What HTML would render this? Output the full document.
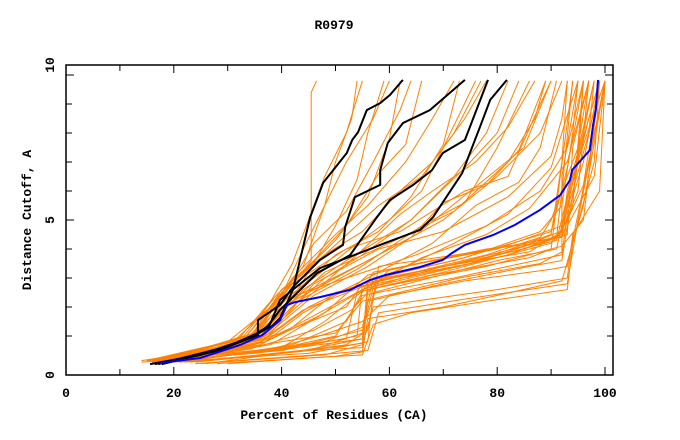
<!DOCTYPE html>
<html><head><meta charset="utf-8"><style>
body{margin:0;background:#fff}
svg{display:block}
text{font-family:"Liberation Mono",monospace;font-weight:bold;font-size:13px;fill:#000}
</style></head><body>
<svg id="chart" width="680" height="440" viewBox="0 0 680 440">
<text x="334" y="29" text-anchor="middle">R0979</text>
<g id="ticks"></g>
<g id="series"></g>
<rect x="66" y="65" width="547" height="310" fill="none" stroke="#000" stroke-width="1.5"/>
<text x="334" y="419" text-anchor="middle">Percent of Residues (CA)</text>
<text transform="translate(31,220) rotate(-90)" text-anchor="middle">Distance Cutoff, A</text>
</svg>
<script>
const xTicks=[0,20,40,60,80,100];
const yTicks=[0,5,10];
const orangeLines=[
[[14,0.1],[35,0.4],[55,0.9],[56,2.6],[70,3.2],[90,4.2],[92,4.6],[93,6],[96,8],[98,9.8]],
[[16,0.1],[40,0.5],[54,1.0],[55,2.8],[75,3.5],[92,4.5],[93,5.5],[97,8.5],[99,9.8]],
[[18,0.1],[45,0.4],[56,0.8],[57,2.5],[80,3.6],[91,4.0],[94,6.5],[100,9.8]],
[[20,0.1],[42,0.6],[55,1.2],[58,2.9],[78,3.8],[88,4.4],[90,5.0],[95,7.5],[97,9.8]],
[[15,0.15],[38,0.5],[50,1.0],[55,2.4],[72,3.0],[92,3.8],[93,5.2],[96,7],[99,9.8]],
[[22,0.1],[45,0.5],[55,0.6],[56,2.2],[70,2.8],[86,3.4],[92,3.6],[93,4.8],[98,6.5],[100,9.8]],
[[25,0.05],[48,0.35],[55,0.7],[57,2.0],[80,2.6],[93,3.0],[94,4.5],[99,6],[100,9.8]],
[[18,0.15],[37,0.8],[45,1.6],[55,2.6],[68,3.3],[85,4.1],[93,4.7],[95,7],[96,9.8]],
[[16,0.15],[35,0.7],[42,1.3],[50,2.5],[65,3.2],[85,4.0],[91,4.4],[92,6],[94,9.8]],
[[20,0.1],[40,0.6],[48,1.5],[58,3.0],[74,3.7],[88,4.6],[92,5.5],[94,8],[95,9.8]],
[[14,0.15],[30,0.6],[40,1.1],[52,2.0],[55,2.8],[70,3.4],[86,3.9],[92,4.6],[95,6],[97,9.8]],
[[24,0.05],[50,0.4],[56,0.5],[58,1.8],[75,2.3],[93,2.8],[95,5],[100,9.8]],
[[20,0.15],[38,0.7],[48,1.8],[56,3.1],[68,3.6],[88,4.3],[92,4.4],[94,5.5],[96,9.8]],
[[17,0.15],[36,0.8],[44,1.9],[55,2.7],[75,3.5],[90,4.5],[92,7],[93,9.8]],
[[22,0.1],[42,0.7],[52,1.5],[57,3.2],[80,4.0],[92,4.8],[94,6],[97,8],[98,9.8]],
[[19,0.15],[40,0.8],[50,1.1],[55,2.2],[73,3.0],[88,3.5],[92,3.9],[92,6.5],[95,9.8]],
[[15,0.15],[35,0.5],[52,0.9],[54,2.5],[68,3.1],[86,3.7],[90,4.0],[91,5.5],[94,9.8]],
[[26,0.05],[44,0.5],[55,0.9],[56,2.6],[78,3.4],[92,4.1],[96,5],[99,9.8]],
[[21,0.1],[43,0.45],[55,0.75],[56,2.9],[76,3.6],[91,4.3],[93,5.8],[98,9.8]],
[[23,0.1],[46,0.55],[55,1.1],[57,2.7],[82,3.8],[92,4.5],[95,7.2],[99,9.8]],
[[28,0.05],[50,0.3],[55,0.45],[56,1.6],[70,2.0],[80,2.4],[92,2.9],[96,5.5],[100,9.8]],
[[30,0.05],[46,0.25],[55,0.35],[57,1.4],[64,1.8],[78,2.2],[93,2.6],[94,4.2],[98,7],[99,9.8]],
[[19,0.1],[36,0.45],[48,0.8],[55,1.3],[57,3.0],[72,3.6],[90,4.6],[93,6.8],[96,9.8]],
[[17,0.1],[34,0.55],[46,1.2],[53,1.9],[60,3.3],[78,4.0],[88,4.2],[93,4.5],[94,7.5],[97,9.8]],
[[24,0.1],[40,0.4],[52,0.7],[56,1.2],[58,3.4],[76,3.9],[91,4.4],[93,5.0],[96,6.2],[99,9.8]],
[[21,0.1],[38,0.55],[47,1.0],[55,1.5],[60,2.4],[74,2.9],[90,3.3],[93,3.4],[95,5.2],[100,9.8]],
[[16,0.1],[33,0.8],[40,2.0],[50,3.0],[60,4.0],[70,5.0],[80,6.5],[88,8.0],[92,9.8]],
[[18,0.15],[35,0.9],[42,2.3],[55,3.5],[65,4.5],[75,6.0],[85,7.5],[90,9.8]],
[[15,0.15],[32,0.7],[38,1.5],[48,3.2],[60,4.2],[72,5.3],[82,7.0],[87,8.5],[89,9.8]],
[[20,0.15],[36,1.0],[44,2.6],[52,3.6],[64,5.0],[74,6.8],[80,8.0],[84,9.8]],
[[17,0.15],[34,0.8],[41,2.3],[52,3.0],[65,3.8],[78,4.8],[88,6.0],[93,7.5],[96,9.8]],
[[22,0.1],[38,1.1],[46,2.8],[58,4.0],[70,4.6],[82,5.8],[90,7.2],[92,8.5],[93,9.8]],
[[19,0.15],[37,0.9],[45,2.0],[56,3.0],[68,4.2],[76,5.5],[84,6.3],[88,7.5],[91,9.8]],
[[16,0.15],[33,0.9],[40,2.5],[48,3.8],[58,5.5],[66,6.5],[72,8.0],[77,9.8]],
[[21,0.1],[36,0.9],[43,2.2],[54,3.3],[66,4.8],[74,5.6],[80,7.5],[86,9.8]],
[[18,0.15],[35,1.1],[42,2.8],[52,4.0],[62,4.6],[74,6.0],[82,6.5],[88,9.0],[90,9.8]],
[[20,0.1],[37,0.8],[44,1.8],[52,2.6],[62,3.3],[72,4.2],[82,5.2],[90,6.8],[95,9.8]],
[[16,0.1],[36,0.7],[47,1.7],[57,2.8],[66,3.7],[78,4.5],[86,5.4],[93,7.0],[97,9.8]],
[[18,0.1],[36,0.9],[44,2.2],[54,3.8],[62,5.2],[68,6.0],[76,7.0],[82,8.2],[87,9.8]],
[[20,0.1],[37,1.0],[46,2.4],[56,3.4],[64,4.4],[70,5.6],[78,6.2],[84,7.4],[89,9.8]],
[[15,0.15],[30,0.8],[38,2.0],[43,3.0],[45.5,3.6],[45.5,9.4],[46.5,9.8]],
[[17,0.15],[32,0.9],[38,2.2],[42,3.5],[45,5.0],[48,6.5],[52,8.0],[55,9.8]],
[[18,0.15],[34,0.9],[40,2.4],[44,4.0],[48,5.5],[52,7.0],[57,8.5],[60,9.8]],
[[20,0.1],[35,1.0],[41,2.6],[46,4.2],[52,5.3],[57,7.0],[62,8.8],[64,9.8]],
[[16,0.15],[33,0.9],[39,2.2],[44,3.2],[50,4.3],[56,5.8],[60,7.8],[62,9.8]],
[[19,0.15],[35,1.1],[42,3.0],[50,4.5],[56,5.5],[63,7.0],[68,8.5],[72,9.8]],
[[18,0.15],[34,0.9],[40,2.6],[48,3.8],[55,4.6],[62,6.0],[68,7.0],[74,8.5],[78,9.8]],
[[21,0.1],[36,0.9],[42,2.0],[48,3.0],[55,3.8],[64,5.0],[72,6.5],[78,8.0],[82,9.8]],
[[15,0.15],[31,0.8],[38,2.0],[44,3.4],[48,5.5],[50,7.0],[53,8.5],[54,9.8]],
[[17,0.15],[34,1.0],[40,2.2],[46,3.0],[54,4.2],[60,5.0],[66,6.0],[70,7.5],[76,9.8]],
[[19,0.1],[35,0.9],[41,2.0],[45,3.2],[50,4.8],[54,6.4],[56,8.0],[59,9.8]],
[[17,0.1],[33,1.0],[39,2.4],[46,3.6],[52,4.8],[58,6.6],[63,7.6],[66,9.8]],
[[22,0.1],[36,1.1],[43,2.6],[50,3.8],[58,4.6],[64,5.8],[70,7.6],[73,9.8]]
];
const blackLines=[
[[15.6,0.03],[24.9,0.34],[31.4,0.76],[35.6,1.1],[38.2,1.34],[39.7,1.62],[42.1,2.59],[45.3,5.1],[45.6,5.24],[47.7,6.28],[52.1,7.31],[53.1,7.76],[54.2,8.03],[55.8,8.79],[58.3,9.03],[60.1,9.31],[62.5,9.83]],
[[16.5,0.03],[26.7,0.45],[32.3,0.79],[35.6,1.03],[35.6,1.55],[39.7,2.07],[42.1,2.69],[47.1,3.62],[51.4,4.14],[51.8,4.76],[53.6,5.79],[58.3,6.21],[58.3,6.72],[59.7,7.66],[62.5,8.34],[67.5,8.79],[74.0,9.83]],
[[17.1,0.03],[27.6,0.52],[33.2,0.86],[36.9,1.21],[39.7,1.9],[46.6,3.17],[52.7,3.79],[57.7,5.1],[60.1,5.69],[64.4,6.21],[67.9,6.72],[69.9,7.31],[74.0,7.76],[78.3,9.83]],
[[17.8,0.03],[28.6,0.52],[34.1,0.93],[37.8,1.38],[39.7,2.24],[47.1,3.34],[52.1,3.69],[58.3,4.14],[65.7,4.66],[68.1,5.1],[73.5,6.62],[76.8,8.21],[78.7,9.14],[81.8,9.83]]
];
const blueLine=[[17.4,0.07],[24.9,0.24],[32.3,0.69],[36.4,1.03],[39.7,1.55],[41.0,2.07],[42.5,2.17],[47.1,2.34],[52.7,2.59],[56.4,2.93],[59.2,3.10],[65.7,3.38],[69.9,3.62],[71.6,3.86],[74.0,4.14],[79.2,4.48],[83.3,4.83],[87.9,5.34],[91.7,5.86],[93.5,6.38],[93.9,6.72],[97.2,7.41],[97.8,8.28],[98.3,8.79],[98.7,9.83]];

const NS='http://www.w3.org/2000/svg';
function xs(v){return 66+5.39*v;}
function ys(v){return 365-29*v;}
const tg=document.getElementById('ticks');
const sg=document.getElementById('series');
function mk(tag,attrs,parent){const e=document.createElementNS(NS,tag);for(const k in attrs)e.setAttribute(k,attrs[k]);parent.appendChild(e);return e;}
for(let v=0;v<=100;v+=10){
  const x=xs(v);const len=v%20===0?8:6;
  const t1=mk('line',{x1:x,x2:x,y1:375,y2:375-len,stroke:'#000','stroke-width':1},tg);
  
  
  const t2=mk('line',{x1:x,x2:x,y1:65,y2:65+len,stroke:'#000','stroke-width':1},tg);
  
  
}
for(let v=1;v<=10;v++){
  const y=ys(v);const len=v%5===0?8:6;
  const t1=mk('line',{x1:66,x2:66+len,y1:y,y2:y,stroke:'#000','stroke-width':1},tg);
  
  
  const t2=mk('line',{x1:613,x2:613-len,y1:y,y2:y,stroke:'#000','stroke-width':1},tg);
  
  
}
xTicks.forEach(v=>{
  const t=mk('text',{x:xs(v),y:397,'text-anchor':'middle'},tg);t.textContent=v;
  
  
});
yTicks.forEach(v=>{
  const yy=v===0?375:(v===10?65:ys(v));
  const t=mk('text',{transform:'translate(54,'+yy+') rotate(-90)','text-anchor':'middle'},tg);t.textContent=v;
  
  
});
function pts(a){return a.map(p=>xs(p[0]).toFixed(1)+','+ys(p[1]).toFixed(1)).join(' ');}
orangeLines.forEach(l=>{
  const e=mk('polyline',{points:pts(l),fill:'none',stroke:'#ff8000','stroke-width':1},sg);
  
  
});
blackLines.forEach(l=>{
  const e=mk('polyline',{points:pts(l),fill:'none',stroke:'#000','stroke-width':2},sg);
  
  
});
const b=mk('polyline',{points:pts(blueLine),fill:'none',stroke:'#0000ff','stroke-width':2},sg);


</script>
</body></html>
